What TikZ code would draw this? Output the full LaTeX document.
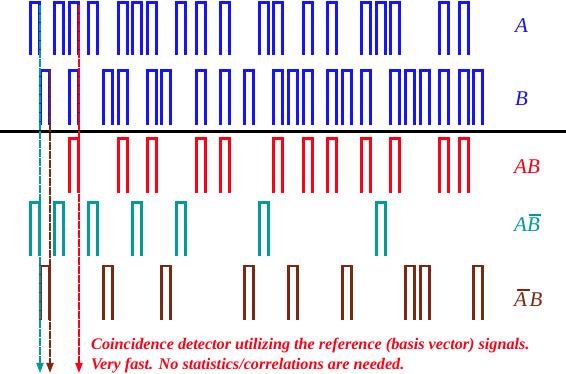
\documentclass[tikz,border=0pt]{standalone}
\usepackage{fontspec}
\setmainfont{Liberation Serif}
\usetikzlibrary{arrows.meta}
\definecolor{sigblue}{RGB}{20,20,255}
\definecolor{sigred}{RGB}{255,0,20}
\definecolor{sigteal}{RGB}{0,155,155}
\definecolor{sigbrown}{RGB}{125,40,15}
\newcommand\ovl[2][1.5pt]{\setbox0\hbox{#2}\vbox{\offinterlineskip\moveright#1\hbox{\vrule width\wd0 height2pt depth0pt}\kern2.5pt\box0}}
\newcommand\pulserow[4]{%
  \foreach \p in {#4} \draw[pulse,#1] (\p+1.3,#3) -- (\p+1.3,#2) -- (\p+10.4,#2) -- (\p+10.4,#3);}
\begin{document}
\begin{tikzpicture}[x=1pt,y=-1pt,
  pulse/.style={line width=2.6pt, line join=miter},
  lbl/.style={anchor=base west, font=\itshape\fontsize{21}{24}\selectfont, inner sep=0pt},
  note/.style={anchor=base west, text=sigred, font=\bfseries\itshape\fontsize{16.2}{18}\selectfont, inner sep=0pt},
  drop/.style={line width=2pt, dash pattern=on 8pt off 1pt, -{Triangle[width=7pt,length=10pt]}}]
\useasboundingbox (0,0) rectangle (566,374);
% signal rows
\pulserow{sigblue}{2.7}{55}{29,53,68,87,117,131,146,175,195,219,258,272,302,326,360,375,389,438,458}
\pulserow{sigblue}{70.8}{125}{39,68,102,117,146,160,195,219,243,272,287,302,326,341,360,389,404,419,438,458,472}
\pulserow{sigred}{138.5}{193}{68,117,146,195,219,272,302,326,360,389,438,458}
\pulserow{sigteal}{202.5}{256}{29,53,87,131,175,258,375}
\pulserow{sigbrown}{266}{320}{39,102,160,243,287,341,404,419,472}
% separator
\coordinate (sepL) at (0,131.5);
\coordinate (sepR) at (566,131.5);
\draw[line width=2.7pt] (sepL) -- (sepR);
% labels
\node[lbl, text=sigblue] (lA) at (515,33) {A};
\node[lbl, text=sigblue] (lB) at (515,106) {B};
\node[lbl, text=sigred] (lAB) at (514,174) {AB};
\node[lbl, text=sigteal] (lABn) at (514,232) {A\ovl{B}};
\node[lbl, text=sigbrown] (lAnB) at (514,307) {\ovl[2.5pt]{A}B};
% note
\node[note] (n1) at (91,350) {Coincidence detector utilizing the reference (basis vector) signals.};
\node[note] (n2) at (91,370) {Very fast. No statistics/correlations are needed.};
% drop arrows
\coordinate (tS) at (40,5);   \coordinate (tE) at (40,373);
\coordinate (bS) at (50,70);  \coordinate (bE) at (50,373);
\coordinate (rS) at (79,5);   \coordinate (rE) at (79,373);
\draw[drop, sigteal] (tS) -- (tE);
\draw[drop, sigbrown] (bS) -- (bE);
\draw[drop, sigred] (rS) -- (rE);
\end{tikzpicture}
\end{document}
